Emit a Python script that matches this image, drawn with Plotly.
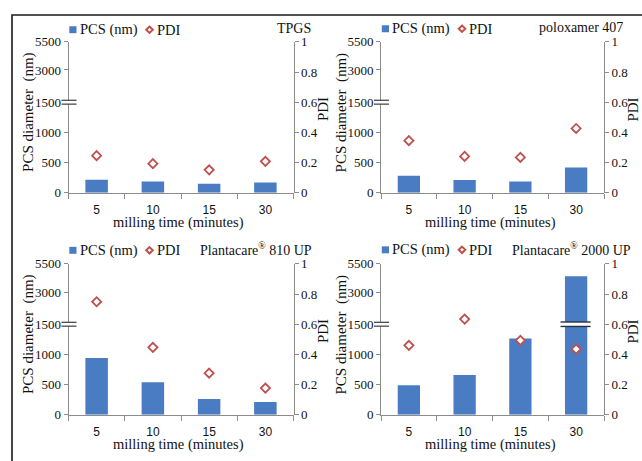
import math
import plotly.graph_objects as go

W, H = 642, 461

# ---------------- data ----------------
minutes = ["5", "10", "15", "30"]
panel_names = ["TPGS", "poloxamer 407",
               "Plantacare<sup>®</sup> 810 UP", "Plantacare<sup>®</sup> 2000 UP"]
pcs_tpgs = [215, 185, 150, 170]
pcs_polox = [280, 212, 185, 417]
pcs_810 = [942, 537, 261, 213]
pcs_2000 = [489, 658, 1263, 4220]
pdi_tpgs = [0.246, 0.193, 0.152, 0.208]
pdi_polox = [0.345, 0.241, 0.234, 0.426]
pdi_810 = [0.749, 0.447, 0.276, 0.177]
pdi_2000 = [0.460, 0.634, 0.493, 0.435]

lower_ticks = [0, 500, 1000, 1500]
upper_ticks = [3000, 5500]
upper_ticktext = ["3000", "5500"]
pdi_ticks = [0, 0.2, 0.4, 0.6, 0.8, 1]
break_value = 1500
upper_top = 5500

pcs_all = [pcs_tpgs, pcs_polox, pcs_810, pcs_2000]
pdi_all = [pdi_tpgs, pdi_polox, pdi_810, pdi_2000]

# ---------------- style / layout ----------------
BLUE = "#4a7cc4"
RED = "#c0504d"
AXIS = "#8c8c8c"
SERIF = "Liberation Serif"
SANS = "Liberation Sans"
LOWER_FRAC = 0.6

# pixel geometry of each panel: (left, right, top, bottom)
panels = [(68.5, 293.5, 36, 192), (381, 604, 36, 192),
          (68.5, 293.5, 265.5, 421.5), (381, 604, 265.5, 421.5)]
title_right = [313, 625, 314, 632.5]
title_y = [22.5, 21.5, 250, 250]
legend_y = [23.5, 22.5, 251.5, 251]


def fx(px):
    return px / W


def fy(py):
    return 1 - py / H


fig = go.Figure()
layout = dict(width=W, height=H, margin=dict(l=0, r=0, t=0, b=0),
              paper_bgcolor="white", plot_bgcolor="rgba(0,0,0,0)",
              showlegend=False, bargap=0.6, barmode="overlay")
shapes = []
annotations = []
TXT = "#111111"

for i in range(4):
    L, R, T, B = panels[i]
    xn = i + 1
    yl, yu, yp = 3 * i + 1, 3 * i + 2, 3 * i + 3
    ybreak_px = B - LOWER_FRAC * (B - T)
    xname = "x" if xn == 1 else f"x{xn}"
    yln = "y" if yl == 1 else f"y{yl}"

    fig.add_trace(go.Bar(x=minutes, y=pcs_all[i], marker_color=BLUE,
                         marker_line_width=0, xaxis=xname, yaxis=yln,
                         name="PCS (nm)"))
    fig.add_trace(go.Bar(x=minutes, y=pcs_all[i], marker_color=BLUE,
                         marker_line_width=0, xaxis=xname, yaxis=f"y{yu}",
                         name="PCS (nm)"))
    fig.add_trace(go.Scatter(x=minutes, y=pdi_all[i], mode="markers",
                             marker=dict(symbol="diamond", size=7, color="white",
                                         line=dict(color=RED, width=1.8)),
                             xaxis=xname, yaxis=f"y{yp}", name="PDI"))

    xkey = "xaxis" if xn == 1 else f"xaxis{xn}"
    layout[xkey] = dict(domain=[fx(L), fx(R)], anchor=yln, type="category",
                        range=[-0.5, len(minutes) - 0.5],
                        showline=True, linecolor=AXIS, linewidth=1,
                        ticks="outside", tickson="boundaries", ticklen=5,
                        tickcolor=AXIS, showgrid=False, fixedrange=True,
                        ticklabelstandoff=6,
                        tickfont=dict(family=SANS, size=12, color=TXT))
    common = dict(anchor=xname, showline=True, linecolor=AXIS, linewidth=1,
                  ticks="outside", ticklen=4, tickcolor=AXIS, showgrid=False,
                  zeroline=False, fixedrange=True,
                  tickfont=dict(family=SERIF, size=13, color=TXT))
    lkey = "yaxis" if yl == 1 else f"yaxis{yl}"
    layout[lkey] = dict(domain=[fy(B), fy(ybreak_px)], range=[0, break_value],
                        tickvals=lower_ticks, **common)
    layout[f"yaxis{yu}"] = dict(domain=[fy(ybreak_px), fy(T)], type="log",
                                range=[math.log10(break_value), math.log10(upper_top)],
                                tickmode="array", tickvals=upper_ticks,
                                ticktext=upper_ticktext, **common)
    layout[f"yaxis{yp}"] = dict(domain=[fy(B), fy(T)], range=[0, 1], side="right",
                                tickvals=pdi_ticks, **common)

    # axis break marks on the left axis
    shapes.append(dict(type="rect", xref="paper", yref="paper",
                       x0=fx(L - 7), x1=fx(L + 8),
                       y0=fy(ybreak_px + 2), y1=fy(ybreak_px - 2),
                       fillcolor="white", line=dict(width=0)))
    for dy in (-2, 2):
        shapes.append(dict(type="line", xref="paper", yref="paper",
                           x0=fx(L - 7), x1=fx(L + 8),
                           y0=fy(ybreak_px + dy), y1=fy(ybreak_px + dy),
                           line=dict(color="#3a3a3a", width=1.2)))
    # break marks across bars that exceed the break value
    for k, v in enumerate(pcs_all[i]):
        if v > break_value:
            shapes.append(dict(type="rect", xref=xname, yref="paper",
                               x0=k - 0.28, x1=k + 0.26,
                               y0=fy(ybreak_px + 2.3), y1=fy(ybreak_px - 2.3),
                               fillcolor="white", line=dict(width=0)))
            for dy in (-2.3, 2.3):
                shapes.append(dict(type="line", xref=xname, yref="paper",
                                   x0=k - 0.28, x1=k + 0.26,
                                   y0=fy(ybreak_px + dy), y1=fy(ybreak_px + dy),
                                   line=dict(color="#2a3140", width=1.4)))

    # custom legend
    ly = legend_y[i]
    shapes.append(dict(type="rect", xref="paper", yref="paper",
                       x0=fx(L + 0.8), x1=fx(L + 8), y0=fy(ly + 3.6), y1=fy(ly - 3.6),
                       fillcolor=BLUE, line=dict(width=0)))
    cx, cy = L + 81, ly
    shapes.append(dict(type="path", xref="paper", yref="paper",
                       path=(f"M {fx(cx)},{fy(cy - 3.3)} L {fx(cx + 3.3)},{fy(cy)} "
                             f"L {fx(cx)},{fy(cy + 3.3)} L {fx(cx - 3.3)},{fy(cy)} Z"),
                       fillcolor="white", line=dict(color=RED, width=2)))
    annotations.append(dict(text="PCS (nm)", x=fx(L + 9), y=fy(ly), xref="paper",
                            yref="paper", xanchor="left", yanchor="middle",
                            showarrow=False, font=dict(family=SERIF, size=14.5, color=TXT)))
    annotations.append(dict(text="PDI", x=fx(L + 86), y=fy(ly), xref="paper",
                            yref="paper", xanchor="left", yanchor="middle",
                            showarrow=False, font=dict(family=SERIF, size=14.5, color=TXT)))
    annotations.append(dict(text=panel_names[i], x=fx(title_right[i]), y=fy(title_y[i]),
                            xref="paper", yref="paper", xanchor="right",
                            yanchor="middle", showarrow=False,
                            font=dict(family=SERIF, size=14, color=TXT)))
    # axis titles
    annotations.append(dict(text="PCS diameter  (nm)", x=fx(L - 40), y=fy(T + 73),
                            xref="paper", yref="paper", xanchor="center",
                            yanchor="middle", textangle=-90, showarrow=False,
                            font=dict(family=SERIF, size=15, color=TXT)))
    annotations.append(dict(text="PDI", x=fx(R + 29), y=fy(T + 70),
                            xref="paper", yref="paper", xanchor="center",
                            yanchor="middle", textangle=-90, showarrow=False,
                            font=dict(family=SERIF, size=15, color=TXT)))
    annotations.append(dict(text="milling time (minutes)", x=fx((L + R) / 2 - 2),
                            y=fy(B + 31), xref="paper", yref="paper",
                            xanchor="center", yanchor="middle", showarrow=False,
                            font=dict(family=SERIF, size=14.5, color=TXT)))

# outer frame
shapes.append(dict(type="rect", xref="paper", yref="paper", x0=fx(12), x1=1.05,
                   y0=-0.05, y1=fy(8.3), line=dict(color="#1a1a1a", width=1.6),
                   fillcolor="rgba(0,0,0,0)", layer="above"))

layout["shapes"] = shapes
layout["annotations"] = annotations
fig.update_layout(**layout)
fig.write_html("out.html")
